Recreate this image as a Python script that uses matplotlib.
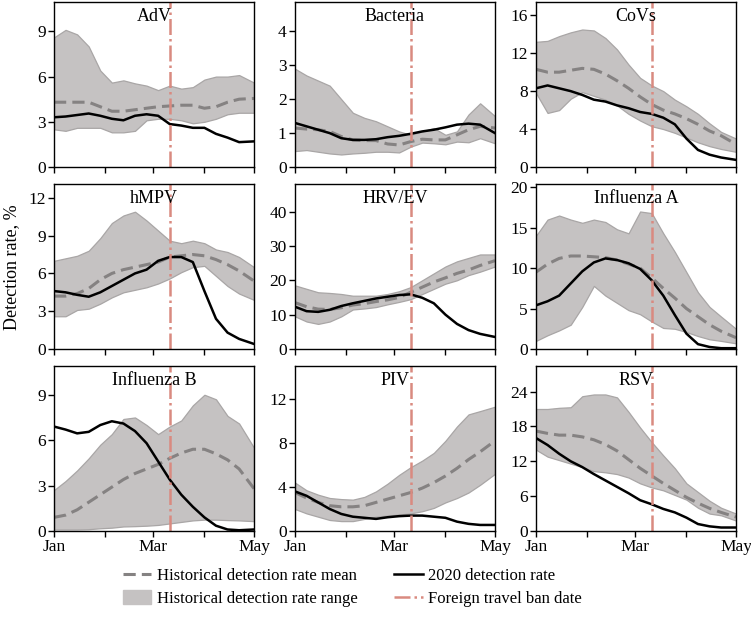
import matplotlib
matplotlib.use("Agg")
import matplotlib.pyplot as plt
import numpy as np
from matplotlib.lines import Line2D
from matplotlib.patches import Patch

plt.rcParams["font.family"] = ["Liberation Serif", "DejaVu Serif"]

# day of year (Jan 1 = 0), roughly weekly points
days = [0, 7, 14, 21, 28, 35, 42, 49, 56, 63, 70, 77, 84, 91, 98, 105, 112, 121]
ban_day = 70  # foreign travel ban date (Mar 11)

month_days = [0, 31, 60, 91, 121]
month_labels = ["Jan", "", "Mar", "", "May"]

pathogens = ["AdV", "Bacteria", "CoVs", "hMPV", "HRV/EV",
             "Influenza A", "Influenza B", "PIV", "RSV"]

adv_upper = [8.6, 9.1, 8.8, 8.0, 6.4, 5.6, 5.75, 5.55, 5.4, 5.1, 5.4, 5.2, 5.3, 5.8, 6.0, 6.0, 6.1, 5.6]
adv_lower = [2.5, 2.4, 2.6, 2.6, 2.6, 2.3, 2.3, 2.4, 3.1, 3.2, 3.2, 3.1, 2.9, 3.0, 3.2, 3.5, 3.6, 3.6]
adv_mean = [4.3, 4.3, 4.3, 4.3, 4.0, 3.7, 3.7, 3.8, 3.9, 4.0, 4.05, 4.1, 4.1, 3.9, 4.0, 4.3, 4.5, 4.55]
adv_2020 = [3.3, 3.35, 3.45, 3.55, 3.4, 3.2, 3.1, 3.4, 3.5, 3.4, 2.85, 2.75, 2.6, 2.6, 2.2, 1.95, 1.65, 1.7]

bac_upper = [2.9, 2.7, 2.55, 2.4, 2.0, 1.6, 1.45, 1.35, 1.2, 1.05, 0.95, 1.05, 1.15, 0.95, 1.05, 1.55, 1.88, 1.5]
bac_lower = [0.47, 0.5, 0.45, 0.4, 0.37, 0.4, 0.42, 0.45, 0.45, 0.43, 0.6, 0.72, 0.7, 0.67, 0.75, 0.73, 0.85, 0.7]
bac_mean = [1.15, 1.12, 1.1, 1.05, 0.9, 0.8, 0.78, 0.78, 0.68, 0.65, 0.75, 0.82, 0.8, 0.8, 0.95, 1.1, 1.2, 1.15]
bac_2020 = [1.3, 1.2, 1.1, 1.0, 0.85, 0.8, 0.8, 0.82, 0.88, 0.92, 0.98, 1.05, 1.1, 1.17, 1.25, 1.28, 1.25, 1.0]

cov_upper = [13.2, 13.3, 13.8, 14.2, 14.5, 14.4, 13.6, 12.4, 10.8, 9.4, 8.6, 8.0, 7.1, 6.4, 5.6, 4.6, 3.7, 3.0]
cov_lower = [7.8, 5.7, 6.0, 7.2, 7.9, 7.5, 7.1, 6.5, 5.6, 4.9, 4.3, 4.0, 3.6, 3.1, 2.6, 2.2, 1.9, 1.6]
cov_mean = [10.3, 10.0, 10.0, 10.2, 10.4, 10.3, 9.8, 9.1, 8.3, 7.4, 6.6, 6.0, 5.6, 5.1, 4.5, 3.8, 3.3, 2.4]
cov_2020 = [8.3, 8.6, 8.3, 8.0, 7.6, 7.1, 6.9, 6.5, 6.2, 5.8, 5.6, 5.2, 4.5, 3.0, 1.8, 1.3, 1.0, 0.75]

hmpv_upper = [7.0, 7.2, 7.4, 7.8, 8.8, 10.0, 10.6, 10.9, 10.2, 9.4, 8.6, 8.4, 8.6, 8.4, 7.9, 7.7, 7.3, 6.5]
hmpv_lower = [2.6, 2.6, 3.1, 3.2, 3.6, 4.1, 4.5, 4.7, 4.9, 5.2, 5.6, 6.1, 6.5, 6.6, 5.8, 5.0, 4.4, 3.9]
hmpv_mean = [4.2, 4.2, 4.4, 4.8, 5.5, 6.0, 6.3, 6.5, 6.7, 6.9, 7.3, 7.4, 7.5, 7.4, 7.1, 6.7, 6.2, 5.4]
hmpv_2020 = [4.6, 4.5, 4.3, 4.15, 4.5, 5.0, 5.5, 6.0, 6.3, 7.0, 7.3, 7.3, 6.9, 4.6, 2.4, 1.3, 0.8, 0.4]

hrv_upper = [18.5, 17.5, 16.5, 16.3, 16.0, 15.5, 15.5, 15.5, 16.0, 16.8, 18.0, 20.0, 22.0, 24.0, 25.5, 26.5, 27.5, 27.5]
hrv_lower = [9.5, 8.0, 7.3, 8.0, 9.5, 11.5, 11.8, 12.2, 13.0, 13.7, 14.5, 16.0, 17.5, 19.0, 20.0, 21.5, 22.5, 24.0]
hrv_mean = [13.5, 12.3, 11.6, 11.5, 12.0, 12.8, 13.2, 13.8, 14.3, 15.0, 16.5, 18.0, 19.5, 20.7, 22.0, 23.0, 24.3, 25.7]
hrv_2020 = [12.3, 11.0, 10.8, 11.4, 12.5, 13.3, 14.0, 14.7, 15.2, 15.7, 15.9, 14.9, 13.3, 10.0, 7.3, 5.5, 4.4, 3.5]

fla_upper = [14.0, 16.0, 16.5, 16.0, 15.6, 16.0, 15.7, 14.8, 14.3, 17.0, 16.8, 14.3, 12.0, 9.5, 7.0, 5.2, 4.0, 2.5]
fla_lower = [1.0, 1.7, 2.3, 3.0, 5.2, 7.8, 6.6, 5.7, 4.8, 4.3, 3.4, 2.6, 2.5, 2.1, 1.6, 1.2, 1.0, 0.7]
fla_mean = [9.5, 10.5, 11.2, 11.5, 11.5, 11.4, 11.3, 11.0, 10.5, 10.0, 8.8, 7.5, 6.3, 5.0, 4.0, 3.0, 2.2, 1.4]
fla_2020 = [5.4, 5.9, 6.6, 8.1, 9.6, 10.7, 11.2, 11.0, 10.6, 9.9, 8.5, 6.6, 4.2, 1.9, 0.6, 0.25, 0.1, 0.1]

flb_upper = [2.7, 3.3, 4.0, 4.8, 5.7, 6.4, 7.4, 7.5, 7.0, 6.4, 6.9, 7.3, 8.3, 9.0, 8.7, 7.6, 7.1, 5.5]
flb_lower = [0.1, 0.1, 0.1, 0.12, 0.18, 0.22, 0.3, 0.32, 0.35, 0.4, 0.5, 0.6, 0.7, 0.75, 0.75, 0.72, 0.7, 0.65]
flb_mean = [0.9, 1.05, 1.4, 1.9, 2.4, 2.9, 3.4, 3.8, 4.1, 4.4, 4.8, 5.15, 5.4, 5.4, 5.1, 4.7, 4.1, 2.8]
flb_2020 = [6.9, 6.7, 6.45, 6.55, 7.0, 7.25, 7.1, 6.6, 5.8, 4.6, 3.4, 2.4, 1.6, 0.9, 0.35, 0.1, 0.05, 0.1]

piv_upper = [4.4, 3.7, 3.3, 3.0, 2.9, 2.85, 3.1, 3.6, 4.3, 5.1, 5.8, 6.4, 7.1, 8.2, 9.5, 10.6, 10.9, 11.3]
piv_lower = [2.0, 1.6, 1.3, 1.0, 0.9, 0.9, 1.1, 1.3, 1.4, 1.5, 1.6, 1.8, 2.1, 2.6, 3.0, 3.5, 4.2, 5.2]
piv_mean = [3.5, 3.0, 2.6, 2.3, 2.2, 2.2, 2.3, 2.6, 2.9, 3.2, 3.5, 3.9, 4.4, 5.0, 5.7, 6.5, 7.2, 8.2]
piv_2020 = [3.6, 3.2, 2.6, 2.0, 1.55, 1.3, 1.2, 1.1, 1.25, 1.35, 1.4, 1.4, 1.3, 1.2, 0.85, 0.65, 0.55, 0.55]

rsv_upper = [21.0, 21.0, 21.2, 21.3, 23.2, 23.5, 23.5, 23.0, 20.5, 17.8, 15.3, 13.0, 10.8, 8.2, 6.7, 5.2, 4.0, 3.0]
rsv_lower = [14.0, 12.8, 12.2, 11.6, 11.0, 10.3, 10.1, 9.8, 9.2, 8.2, 7.5, 7.0, 6.2, 5.4, 4.0, 3.0, 2.7, 1.8]
rsv_mean = [17.2, 16.8, 16.5, 16.5, 16.2, 15.7, 14.9, 13.8, 12.3, 10.8, 9.5, 8.2, 7.0, 5.8, 4.8, 3.9, 3.2, 2.4]
rsv_2020 = [16.0, 14.8, 13.3, 12.0, 11.0, 9.8, 8.7, 7.6, 6.5, 5.3, 4.6, 3.8, 3.2, 2.3, 1.2, 0.8, 0.6, 0.6]

panel_data = [
    (adv_upper, adv_lower, adv_mean, adv_2020),
    (bac_upper, bac_lower, bac_mean, bac_2020),
    (cov_upper, cov_lower, cov_mean, cov_2020),
    (hmpv_upper, hmpv_lower, hmpv_mean, hmpv_2020),
    (hrv_upper, hrv_lower, hrv_mean, hrv_2020),
    (fla_upper, fla_lower, fla_mean, fla_2020),
    (flb_upper, flb_lower, flb_mean, flb_2020),
    (piv_upper, piv_lower, piv_mean, piv_2020),
    (rsv_upper, rsv_lower, rsv_mean, rsv_2020),
]

y_tops = [10.95, 4.87, 17.4, 13.1, 48.0, 20.4, 10.9, 15.0, 28.4]
y_ticks = [
    [0, 3, 6, 9], [0, 1, 2, 3, 4], [0, 4, 8, 12, 16],
    [0, 3, 6, 9, 12], [0, 10, 20, 30, 40], [0, 5, 10, 15, 20],
    [0, 3, 6, 9], [0, 4, 8, 12], [0, 6, 12, 18, 24],
]

band_color = "#c5c2c2"
band_edge = "#a9a6a6"
mean_color = "#858282"
ban_color = "#d98a80"

W, H = 751, 621
fig = plt.figure(figsize=(W / 100, H / 100), dpi=100)

col_left = [54, 295, 536]
row_top = [2, 184, 366]
ax_w, ax_h = 200, 165

for k, (name, (up, lo, mn, cur)) in enumerate(zip(pathogens, panel_data)):
    r, c = divmod(k, 3)
    ax = fig.add_axes([col_left[c] / W, 1 - (row_top[r] + ax_h) / H,
                       ax_w / W, ax_h / H])
    ax.fill_between(days, lo, up, facecolor=band_color, edgecolor=band_edge,
                    linewidth=0.9)
    ax.plot(days, mn, color=mean_color, linestyle=(0, (4, 2)), linewidth=2.2)
    ax.plot(days, cur, color="black", linewidth=1.8)
    ax.axvline(ban_day, color=ban_color, linestyle="-.", linewidth=1.8)

    ax.set_xlim(0, 121)
    ax.set_ylim(0, y_tops[k])
    ax.set_yticks(y_ticks[k])
    ax.set_xticks(month_days)
    if r == 2:
        ax.set_xticklabels(month_labels)
    else:
        ax.set_xticklabels([])
    ax.tick_params(direction="out", length=4, width=1, labelsize=12.5,
                   pad=2)
    for s in ax.spines.values():
        s.set_linewidth(1)
    ax.text(0.5, 0.91, name, transform=ax.transAxes, ha="center",
            va="center", fontsize=13)

fig.text(12 / W, 1 - 267 / H, "Detection rate, %", rotation=90,
         ha="center", va="center", fontsize=13)

handles = [
    Line2D([], [], color=mean_color, linestyle=(0, (4, 2)), linewidth=2.2),
    Patch(facecolor=band_color, edgecolor=band_color),
    Line2D([], [], color="black", linewidth=1.8),
    Line2D([], [], color=ban_color, linestyle="-.", linewidth=1.8),
]
labels = [
    "Historical detection rate mean",
    "Historical detection rate range",
    "2020 detection rate",
    "Foreign travel ban date",
]
fig.legend(handles, labels, loc="upper left", ncol=2, frameon=False,
           bbox_to_anchor=(116 / W, 1 - 561 / H), fontsize=12,
           handlelength=1.7, handleheight=0.9, handletextpad=0.35,
           columnspacing=2.2, labelspacing=0.35, borderaxespad=0)

fig.savefig("out.png", dpi=100)
